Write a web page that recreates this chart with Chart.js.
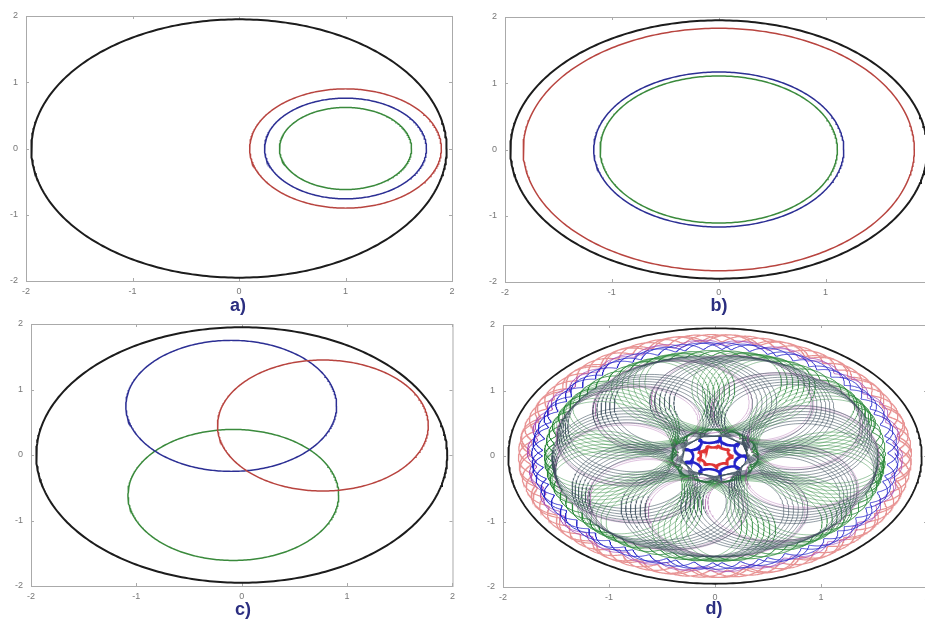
<!DOCTYPE html>
<html>
<head>
<meta charset="utf-8">
<script src="https://cdn.jsdelivr.net/npm/chart.js@4.4.0/dist/chart.umd.min.js"></script>
<style>
  body { margin: 0; background: #fff; overflow: hidden; width: 925px; height: 621px; position: relative; }
  canvas { position: absolute; }
  .cap { position: absolute; font: bold 18px "Liberation Sans", Arial, sans-serif; color: #2b2e80; transform: translate(-50%, -50%); }
</style>
</head>
<body>
<canvas id="pa" width="460" height="300" style="left:0;top:0"></canvas>
<canvas id="pb" width="480" height="300" style="left:460px;top:0"></canvas>
<canvas id="pc" width="460" height="311" style="left:0;top:310px"></canvas>
<canvas id="pd" width="480" height="311" style="left:460px;top:310px"></canvas>
<div class="cap" style="left:238px;top:305px">a)</div>
<div class="cap" style="left:719px;top:305px">b)</div>
<div class="cap" style="left:243px;top:609px">c)</div>
<div class="cap" style="left:714px;top:608px">d)</div>
<script>
// tick values, same on every axis
const tickValues = [-2, -1, 0, 1, 2];

// colours used in the circle panels: black, red, blue, green
const circleColors = ['#1c1c1c', '#b8443f', '#2c2f94', '#3a8a3c'];
const circleWidths = [2, 1.5, 1.5, 1.5];

// panel a: centre x, centre y, radius (black, red, blue, green)
const aCx = [0, 1, 1, 1];
const aCy = [0, 0, 0, 0];
const aR = [1.95, 0.90, 0.76, 0.62];

// panel b
const bCx = [0, 0, 0, 0];
const bCy = [0, 0, 0, 0];
const bR = [1.95, 1.83, 1.17, 1.11];

// panel c
const cCx = [0, 0.77, -0.10, -0.08];
const cCy = [0, 0.45, 0.75, -0.61];
const cR = [1.95, 1.00, 1.00, 1.00];

// panel d orbits: radius of the guiding circle, loop radius, spin ratio, turns
// grey loops, purple loops, green mesh, green/blue/purple/red bands, green/blue/red centre stars
const orbitA = [0.92, 0.95, 1.00, 1.57, 1.68, 1.73, 1.80, 0.38, 0.25, 0.15];
const orbitB = [0.62, 0.60, 0.60, 0.04, 0.05, 0.04, 0.055, 0.03, 0.045, 0.018];
const orbitSpin = [10.08, 10.05, -8.07, 24.3, 24.4, 27.2, 22.3, 12.2, -8, -8.1];
const orbitTurns = [6, 2, 7, 3, 3, 2, 4, 2, 1, 2];
const orbitColors = ['rgba(60,78,92,0.8)', 'rgba(160,80,160,0.5)', 'rgba(40,135,55,0.65)',
  'rgba(40,135,55,0.85)', 'rgba(35,35,200,0.8)', 'rgba(170,80,180,0.75)', 'rgba(220,90,90,0.65)',
  'rgba(40,135,55,0.9)', '#2323c8', '#e03535'];
const orbitWidths = [0.7, 0.7, 0.7, 1, 1, 1, 1.2, 1.2, 2.4, 2.2];
const dOuterCircle = 1.95;

// draws the light grey box and small inward ticks like the original figure
const boxFrame = {
  id: 'boxFrame',
  beforeDatasetsDraw(chart) {
    const { ctx, chartArea: a, scales } = chart;
    ctx.save();
    ctx.strokeStyle = '#aaaaaa';
    ctx.lineWidth = 1;
    ctx.strokeRect(a.left + 0.5, a.top + 0.5, a.right - a.left, a.bottom - a.top);
    tickValues.forEach(v => {
      const px = Math.round(scales.x.getPixelForValue(v)) + 0.5;
      const py = Math.round(scales.y.getPixelForValue(v)) + 0.5;
      ctx.beginPath();
      ctx.moveTo(px, a.bottom); ctx.lineTo(px, a.bottom - 3);
      ctx.moveTo(px, a.top); ctx.lineTo(px, a.top + 3);
      ctx.moveTo(a.left, py); ctx.lineTo(a.left + 3, py);
      ctx.moveTo(a.right, py); ctx.lineTo(a.right - 3, py);
      ctx.stroke();
    });
    ctx.restore();
  }
};

function lineSet(pts, color, width) {
  return { data: pts, showLine: true, borderColor: color, borderWidth: width, pointRadius: 0, tension: 0 };
}

function circleSet(cx, cy, r, color, width) {
  const pts = [];
  for (let i = 0; i <= 360; i++) {
    const t = i * Math.PI / 180;
    pts.push({ x: cx + r * Math.cos(t), y: cy + r * Math.sin(t) });
  }
  return lineSet(pts, color, width);
}

// epicycle: a loop of radius b riding round a circle of radius a
function orbitSet(a, b, k, turns, color, width) {
  const steps = 1800;
  const pts = [];
  for (let i = 0; i <= turns * steps; i++) {
    const t = i * 2 * Math.PI / steps;
    pts.push({ x: a * Math.cos(t) + b * Math.cos(k * t), y: a * Math.sin(t) + b * Math.sin(k * t) });
  }
  return lineSet(pts, color, width);
}

function makePanel(id, box, datasets) {
  const cv = document.getElementById(id);
  const axis = (extra) => Object.assign({
    type: 'linear', min: -2, max: 2,
    afterBuildTicks: s => { s.ticks = tickValues.map(v => ({ value: v })); },
    grid: { display: false, drawTicks: false },
    border: { display: false }
  }, extra);
  const tickFont = { size: 9, family: 'Liberation Sans' };
  new Chart(cv, {
    type: 'scatter',
    data: { datasets },
    options: {
      responsive: false,
      animation: false,
      events: [],
      layout: { padding: { top: box.top, right: cv.width - box.right, left: 0, bottom: 0 } },
      plugins: { legend: { display: false }, tooltip: { enabled: false } },
      scales: {
        x: axis({ afterFit: s => { s.height = cv.height - box.bottom; },
          ticks: { font: tickFont, color: '#777', padding: 5, autoSkip: false, maxRotation: 0 } }),
        y: axis({ afterFit: s => { s.width = box.left; },
          ticks: { font: tickFont, color: '#777', padding: 8, autoSkip: false } })
      }
    },
    plugins: [boxFrame]
  });
}

function circlePanel(cx, cy, r) {
  return cx.map((v, i) => circleSet(v, cy[i], r[i], circleColors[i], circleWidths[i]));
}

// panel d: loops and bands, outer black circle on top
const dSets = orbitA.map((a, i) => orbitSet(a, orbitB[i], orbitSpin[i], orbitTurns[i], orbitColors[i], orbitWidths[i]));
dSets.push(circleSet(0, 0, dOuterCircle, circleColors[0], 1.8));

makePanel('pa', { left: 26, top: 16, right: 452, bottom: 281 }, circlePanel(aCx, aCy, aR));
makePanel('pb', { left: 45, top: 17, right: 473, bottom: 282 }, circlePanel(bCx, bCy, bR));
makePanel('pc', { left: 31, top: 14, right: 453, bottom: 276 }, circlePanel(cCx, cCy, cR));
makePanel('pd', { left: 43, top: 15, right: 467, bottom: 277 }, dSets);
</script>
</body>
</html>
